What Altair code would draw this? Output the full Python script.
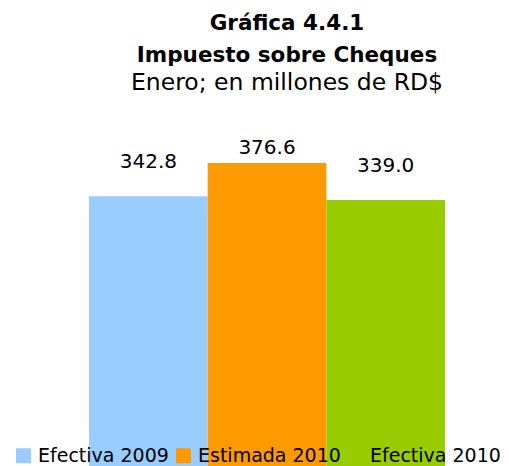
import altair as alt
import pandas as pd

categories = ["Efectiva 2009", "Estimada 2010", "Efectiva 2010"]
values = [342.8, 376.6, 339.0]
labels = ["342.8", "376.6", "339.0"]
colors = ["#99CCFF", "#FF9900", "#99CC00"]

df = pd.DataFrame({"cat": categories, "val": values, "lbl": labels})

FONT = "DejaVu Sans"

x = alt.X("cat:N", sort=categories, axis=None,
          scale=alt.Scale(paddingInner=0, paddingOuter=0))
y = alt.Y("val:Q", axis=None, scale=alt.Scale(domain=[100, 400], zero=False))

bars = alt.Chart(df).mark_bar().encode(
    x=x, y=y,
    color=alt.Color("cat:N", sort=categories,
                    scale=alt.Scale(domain=categories, range=colors),
                    legend=alt.Legend(title=None, orient="none", direction="horizontal",
                                      legendX=-75, legendY=306,
                                      symbolType="square", symbolSize=225,
                                      symbolStrokeWidth=0,
                                      labelFont=FONT, labelFontSize=19,
                                      labelColor="black", columnPadding=5,
                                      symbolOffset=0, labelOffset=5))
)

txt_hi = alt.Chart(df).transform_filter(alt.datum.cat == "Estimada 2010").mark_text(
    font=FONT, fontSize=20, baseline="alphabetic", dy=-9, color="black"
).encode(x=x, y=y, text="lbl:N")

txt_lo = alt.Chart(df).transform_filter(alt.datum.cat != "Estimada 2010").mark_text(
    font=FONT, fontSize=20, baseline="alphabetic", dy=-28, color="black"
).encode(x=x, y=y, text="lbl:N")

chart = alt.layer(bars, txt_hi, txt_lo).properties(
    width=356, height=295,
    title=alt.TitleParams(
        text=["Gráfica 4.4.1", "Impuesto sobre Cheques"],
        subtitle="Enero; en millones de RD$",
        font=FONT, fontSize=21.5, fontWeight="bold", color="black",
        subtitleFont=FONT, subtitleFontSize=23.5, subtitleColor="black",
        lineHeight=32, subtitleLineHeight=31, subtitlePadding=4,
        anchor="middle", dx=20, offset=44
    ),
    autosize=alt.AutoSizeParams(type="none"),
    padding={"left": 81, "top": 132, "right": 56, "bottom": 31}
).configure_view(stroke=None)

chart.save("out.html", embed_options={"renderer": "svg", "actions": False})
